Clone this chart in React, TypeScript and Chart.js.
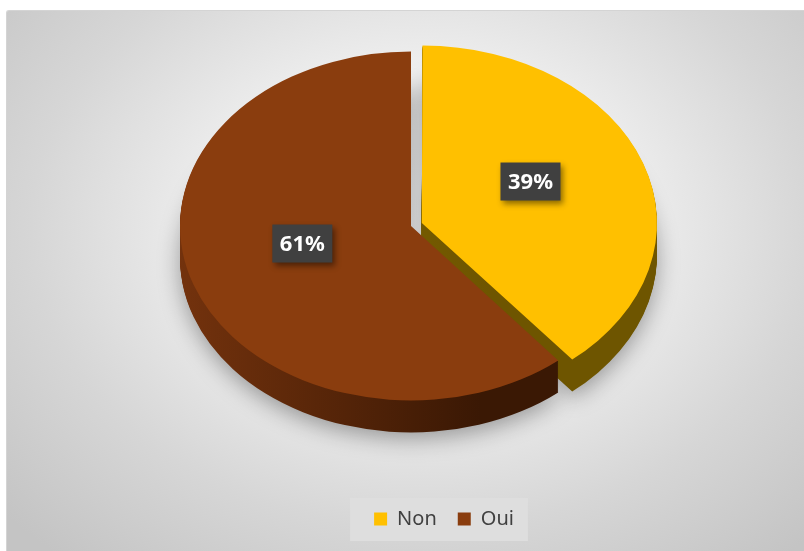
import React, { useEffect, useRef } from 'react';
import { Chart, registerables } from 'chart.js';

Chart.register(...registerables);

// ---- data ----
const categories: string[] = ['Non', 'Oui'];
const values: number[] = [39, 61];

// ---- styles ----
const topColors = ['#FFC000', '#8A3D0E'];
const sideStart = ['#866800', '#73320D'];
const sideEnd = ['#6E5500', '#3A1804'];
const explodeOffsets = [46, 0]; // chart.js arc offset (drawn at offset / 4)

const PIE_RADIUS = 231;
const TILT = 0.755;
const DEPTH = 32;
const PIE_CX = 404;
const PIE_CY = 215;
const LABEL_SHIFT_Y = -12;
const FONT = "'Segoe UI', 'Noto Sans', sans-serif";

const pie3d = {
  id: 'pie3d',
  beforeDraw(chart: any) {
    const lg = chart.legend;
    if (lg && lg.legendHitBoxes && lg.legendHitBoxes.length) {
      const hb = lg.legendHitBoxes;
      const first = hb[0];
      const last = hb[hb.length - 1];
      const ctx = chart.ctx;
      ctx.save();
      ctx.fillStyle = '#dedede';
      const left = first.left - 24;
      const right = last.left + last.width + 14;
      const top = first.top - 11;
      const bottom = first.top + first.height + 12;
      ctx.fillRect(left, top, right - left, bottom - top);
      ctx.restore();
    }
  },
  beforeDatasetDraw() {
    return false;
  },
  afterDatasetsDraw(chart: any) {
    const ctx: CanvasRenderingContext2D = chart.ctx;
    const meta = chart.getDatasetMeta(0);
    const arcs: any[] = meta.data;
    if (!arcs.length) return;
    const ax = arcs[0].x;
    const ay = arcs[0].y;
    const R = PIE_RADIUS;
    const setT = (dy: number) => {
      ctx.translate(PIE_CX, PIE_CY + dy);
      ctx.scale(1, TILT);
      ctx.translate(-ax, -ay);
    };
    const grads = arcs.map((_a, i) => {
      const g = ctx.createLinearGradient(ax - R, 0, ax + R * 0.3, 0);
      g.addColorStop(0, sideStart[i]);
      g.addColorStop(1, sideEnd[i]);
      return g;
    });
    const drawWith = (a: any, fill: any) => {
      const o = a.options;
      a.options = { ...o, backgroundColor: fill, borderWidth: 0 };
      a.draw(ctx);
      a.options = o;
    };
    // bottom layer with soft shadow
    ctx.save();
    setT(DEPTH);
    ctx.shadowColor = 'rgba(0,0,0,0.35)';
    ctx.shadowBlur = 22;
    ctx.shadowOffsetY = 6;
    arcs.forEach((a, i) => drawWith(a, grads[i]));
    ctx.restore();
    for (let d = DEPTH - 1; d >= 1; d--) {
      ctx.save();
      setT(d);
      arcs.forEach((a, i) => drawWith(a, grads[i]));
      ctx.restore();
    }
    // top faces
    ctx.save();
    setT(0);
    arcs.forEach((a) => a.draw(ctx));
    ctx.restore();

    // data labels
    const total = values.reduce((s, v) => s + v, 0);
    arcs.forEach((a, i) => {
      const mid = (a.startAngle + a.endAngle) / 2;
      const off = (a.options.offset || 0) / 4;
      const dist = off + R * 0.5;
      const sx = PIE_CX + Math.cos(mid) * dist;
      const sy = PIE_CY + Math.sin(mid) * dist * TILT + LABEL_SHIFT_Y;
      const text = Math.round((values[i] / total) * 100) + '%';
      ctx.save();
      ctx.font = `bold 22px ${FONT}`;
      const tw = ctx.measureText(text).width;
      const bw = tw + 15;
      const bh = 38;
      ctx.shadowColor = 'rgba(0,0,0,0.45)';
      ctx.shadowBlur = 6;
      ctx.shadowOffsetX = 3;
      ctx.shadowOffsetY = 3;
      ctx.fillStyle = '#404040';
      ctx.fillRect(sx - bw / 2, sy - bh / 2, bw, bh);
      ctx.shadowColor = 'transparent';
      ctx.fillStyle = '#ffffff';
      ctx.textAlign = 'center';
      ctx.textBaseline = 'middle';
      ctx.fillText(text, sx, sy + 1);
      ctx.restore();
    });
  },
};

export default function App() {
  const ref = useRef<HTMLCanvasElement | null>(null);
  useEffect(() => {
    if (!ref.current) return;
    const chart = new Chart(ref.current, {
      type: 'pie',
      data: {
        labels: categories,
        datasets: [
          {
            data: values,
            backgroundColor: topColors,
            borderWidth: 0,
            offset: explodeOffsets,
            hoverOffset: 0,
          },
        ],
      },
      options: {
        animation: false,
        responsive: false,
        events: [],
        radius: PIE_RADIUS,
        layout: { padding: { left: 76, right: 0, top: 0, bottom: 13 } },
        plugins: {
          legend: {
            position: 'bottom',
            labels: {
              boxWidth: 13,
              boxHeight: 13,
              padding: 21,
              color: '#404040',
              font: { family: FONT, size: 20 },
            },
          },
          tooltip: { enabled: false },
        },
      } as any,
      plugins: [pie3d as any],
    });
    return () => chart.destroy();
  }, []);

  return (
    <div
      style={{
        position: 'fixed',
        left: 6,
        top: 10,
        width: 798,
        height: 541,
        boxSizing: 'border-box',
        borderTop: '1px solid #d4d4d4',
        borderLeft: '1px solid #d4d4d4',
        borderTopLeftRadius: 3,
        background:
          'radial-gradient(ellipse 70% 80% at 52% 40%, #ffffff 0%, #f0f0f0 35%, #d6d6d6 70%, #c4c4c4 100%)',
      }}
    >
      <canvas ref={ref} width={798} height={541} style={{ display: 'block' }} />
    </div>
  );
}
